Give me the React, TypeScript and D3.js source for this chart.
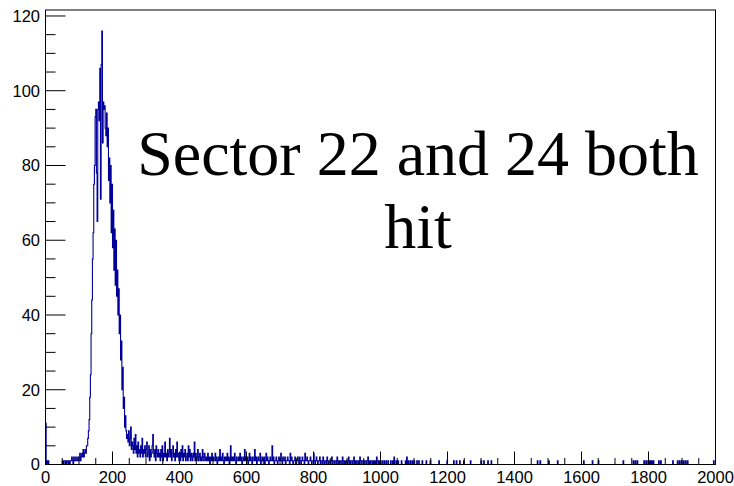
import React from "react";
import * as d3 from "d3";

// Histogram: bin width 2, range 0..2000 (1000 bins)
const BIN_WIDTH = 2;
// 0 .. 118
const bins000 = [
  11, 0, 1, 0, 1, 0, 0, 0, 0, 0, 0, 0, 0, 0, 0, 0, 0, 0, 0, 0,
  0, 0, 0, 0, 0, 1, 0, 1, 1, 0, 1, 0, 1, 1, 0, 1, 0, 1, 1, 2,
  1, 0, 2, 1, 1, 2, 1, 1, 2, 1, 2, 3, 1, 2, 3, 2, 4, 2, 3, 4,
];
// 120 .. 238 (main peak)
const bins120 = [
  3, 5, 5, 7, 9, 12, 18, 24, 35, 44, 55, 62, 75, 80, 93, 95, 78, 65, 95, 97,
  92, 106, 71, 107, 116, 86, 97, 95, 96, 90, 88, 94, 85, 90, 76, 82, 70, 80, 62, 75,
  58, 68, 52, 63, 48, 60, 45, 52, 40, 47, 35, 40, 28, 33, 20, 26, 15, 18, 10, 13,
];
// 240 .. 398
const bins240 = [
  9, 7, 8, 6, 9, 5, 7, 10, 4, 6, 5, 3, 7, 4, 8, 3, 5, 2, 6, 3,
  4, 2, 5, 3, 7, 2, 4, 3, 5, 2, 4, 6, 2, 3, 5, 1, 4, 2, 3, 5,
  8, 3, 2, 4, 1, 5, 3, 2, 4, 2, 3, 1, 4, 2, 5, 1, 3, 2, 6, 2,
  3, 1, 4, 2, 3, 7, 2, 4, 1, 3, 5, 2, 3, 1, 4, 2, 6, 2, 3, 1,
];
// 400 .. 598
const bins400 = [
  3, 1, 4, 2, 5, 1, 3, 2, 4, 1, 2, 3, 1, 5, 2, 4, 1, 3, 2, 1,
  3, 2, 6, 1, 3, 1, 2, 4, 1, 2, 3, 1, 2, 1, 4, 2, 1, 3, 2, 1,
  2, 1, 3, 1, 2, 0, 2, 1, 3, 1, 2, 1, 1, 3, 1, 2, 0, 1, 2, 1,
  4, 1, 2, 1, 3, 1, 0, 2, 1, 2, 1, 3, 1, 2, 0, 1, 5, 1, 2, 1,
  2, 1, 3, 1, 0, 2, 1, 1, 2, 1, 3, 1, 2, 0, 1, 2, 1, 4, 1, 2,
];
// 600 .. 798
const bins600 = [
  1, 2, 0, 1, 3, 1, 2, 1, 0, 2, 1, 1, 4, 1, 2, 0, 1, 2, 1, 1,
  3, 0, 1, 2, 1, 1, 2, 0, 1, 3, 1, 2, 1, 0, 1, 2, 1, 1, 5, 1,
  2, 0, 1, 1, 2, 1, 0, 1, 2, 1, 1, 3, 1, 0, 2, 1, 1, 2, 0, 1,
  1, 2, 1, 1, 0, 3, 1, 2, 1, 0, 1, 1, 2, 0, 1, 1, 2, 1, 0, 2,
  1, 0, 1, 2, 1, 1, 0, 3, 1, 1, 2, 1, 0, 1, 1, 2, 1, 0, 1, 1,
];
// 800 .. 998
const bins800 = [
  3, 1, 0, 1, 2, 1, 0, 1, 1, 2, 0, 1, 1, 0, 2, 1, 0, 1, 1, 0,
  2, 1, 0, 1, 1, 0, 1, 2, 0, 1, 1, 0, 1, 1, 0, 2, 1, 0, 1, 0,
  1, 1, 0, 2, 1, 0, 1, 0, 1, 1, 0, 1, 2, 0, 1, 0, 1, 1, 0, 1,
  2, 0, 1, 0, 1, 1, 0, 1, 0, 2, 1, 0, 1, 1, 0, 1, 0, 1, 1, 0,
  1, 2, 0, 1, 0, 1, 1, 0, 1, 0, 1, 0, 1, 0, 2, 1, 0, 1, 0, 1,
];
// 1000 .. 2000: sparse entries (bin low edge, count)
const tailEdges = [
  1004, 1010, 1016, 1022, 1030, 1036, 1040, 1046, 1052, 1062, 1074, 1078, 1082, 1088, 1094,
  1100, 1108, 1114, 1124, 1136, 1148, 1174, 1198, 1218, 1226, 1236, 1248, 1268, 1300, 1308,
  1320, 1330, 1468, 1476, 1502, 1528, 1606, 1632, 1650, 1724, 1754, 1760, 1766, 1786, 1792,
  1798, 1802, 1806, 1810, 1814, 1830, 1836, 1872, 1886, 1892, 1898, 1904, 1910, 1916, 1994,
];
const tailCounts = [
  1, 1, 1, 1, 1, 1, 2, 1, 1, 1, 1, 2, 1, 1, 1,
  1, 1, 1, 1, 1, 1, 1, 1, 1, 1, 1, 1, 1, 1, 1,
  1, 1, 1, 1, 1, 1, 1, 1, 1, 1, 1, 1, 1, 1, 1,
  1, 1, 1, 1, 1, 1, 1, 1, 1, 1, 1, 1, 1, 1, 1,
];

const xMajorTicks = [0, 200, 400, 600, 800, 1000, 1200, 1400, 1600, 1800, 2000];
const yMajorTicks = [0, 20, 40, 60, 80, 100, 120];
const titleLines = ["Sector 22 and 24 both", "hit"];

const W = 734;
const H = 486;
const L = 45.5, R = 715.5, T = 10, B = 464.5;

function buildCounts(): number[] {
  const dense = [...bins000, ...bins120, ...bins240, ...bins400, ...bins600, ...bins800];
  const n = 2000 / BIN_WIDTH;
  const out = new Array(n).fill(0);
  dense.forEach((c, i) => (out[i] = c));
  tailEdges.forEach((e, i) => {
    out[Math.floor(e / BIN_WIDTH)] += tailCounts[i];
  });
  return out;
}

export default function App() {
  const counts = buildCounts();
  const x = d3.scaleLinear().domain([0, 2000]).range([L, R]);
  const y = d3.scaleLinear().domain([0, 121.6]).range([B, T]);

  const pts: [number, number][] = [[x(0), y(0)]];
  counts.forEach((c, i) => {
    const x0 = i * BIN_WIDTH;
    pts.push([x(x0), y(c)]);
    pts.push([x(x0 + BIN_WIDTH), y(c)]);
  });
  const line = d3.line<[number, number]>().x((d) => d[0]).y((d) => d[1]);
  const path = line(pts) || "";

  const xMinor = d3.range(0, 2001, 50).filter((v) => v % 200 !== 0);
  const yMinor = d3.range(0, 121, 5).filter((v) => v % 20 !== 0);

  const sans = "'Liberation Sans', Arial, Helvetica, sans-serif";
  return (
    <svg
      width={W}
      height={H}
      style={{ position: "absolute", left: 0, top: 0, display: "block", background: "#fff" }}
    >
      <defs>
        <clipPath id="frameClip">
          <rect x={L} y={T} width={R - L} height={B - T} />
        </clipPath>
      </defs>
      <rect x={0} y={0} width={W} height={H} fill="#fff" />
      <path d={path} fill="none" stroke="#000099" strokeWidth={1.1} clipPath="url(#frameClip)" />
      <rect x={L} y={T} width={R - L} height={B - T} fill="none" stroke="#000" strokeWidth={1} />
      {xMajorTicks.map((v) => (
        <line key={"xM" + v} x1={x(v)} x2={x(v)} y1={B} y2={B - 13} stroke="#000" strokeWidth={1} />
      ))}
      {xMinor.map((v) => (
        <line key={"xm" + v} x1={x(v)} x2={x(v)} y1={B} y2={B - 6.5} stroke="#000" strokeWidth={1} />
      ))}
      {xMajorTicks.map((v) => (
        <text key={"xl" + v} x={x(v)} y={483} textAnchor="middle" fontFamily={sans} fontSize={16.5} fill="#000">
          {v}
        </text>
      ))}
      {yMajorTicks.map((v) => (
        <line key={"yM" + v} x1={L} x2={L + 20} y1={y(v)} y2={y(v)} stroke="#000" strokeWidth={1} />
      ))}
      {yMinor.map((v) => (
        <line key={"ym" + v} x1={L} x2={L + 10} y1={y(v)} y2={y(v)} stroke="#000" strokeWidth={1} />
      ))}
      {yMajorTicks.map((v) => (
        <text
          key={"yl" + v}
          x={40}
          y={y(v)}
          dy="0.35em"
          textAnchor="end"
          fontFamily={sans}
          fontSize={16.5}
          fill="#000"
        >
          {v}
        </text>
      ))}
      {titleLines.map((t, i) => (
        <text
          key={"t" + i}
          x={418}
          y={175 + i * 73}
          textAnchor="middle"
          fontFamily="'Liberation Serif', 'Times New Roman', serif"
          fontSize={64}
          fill="#000"
        >
          {t}
        </text>
      ))}
    </svg>
  );
}
